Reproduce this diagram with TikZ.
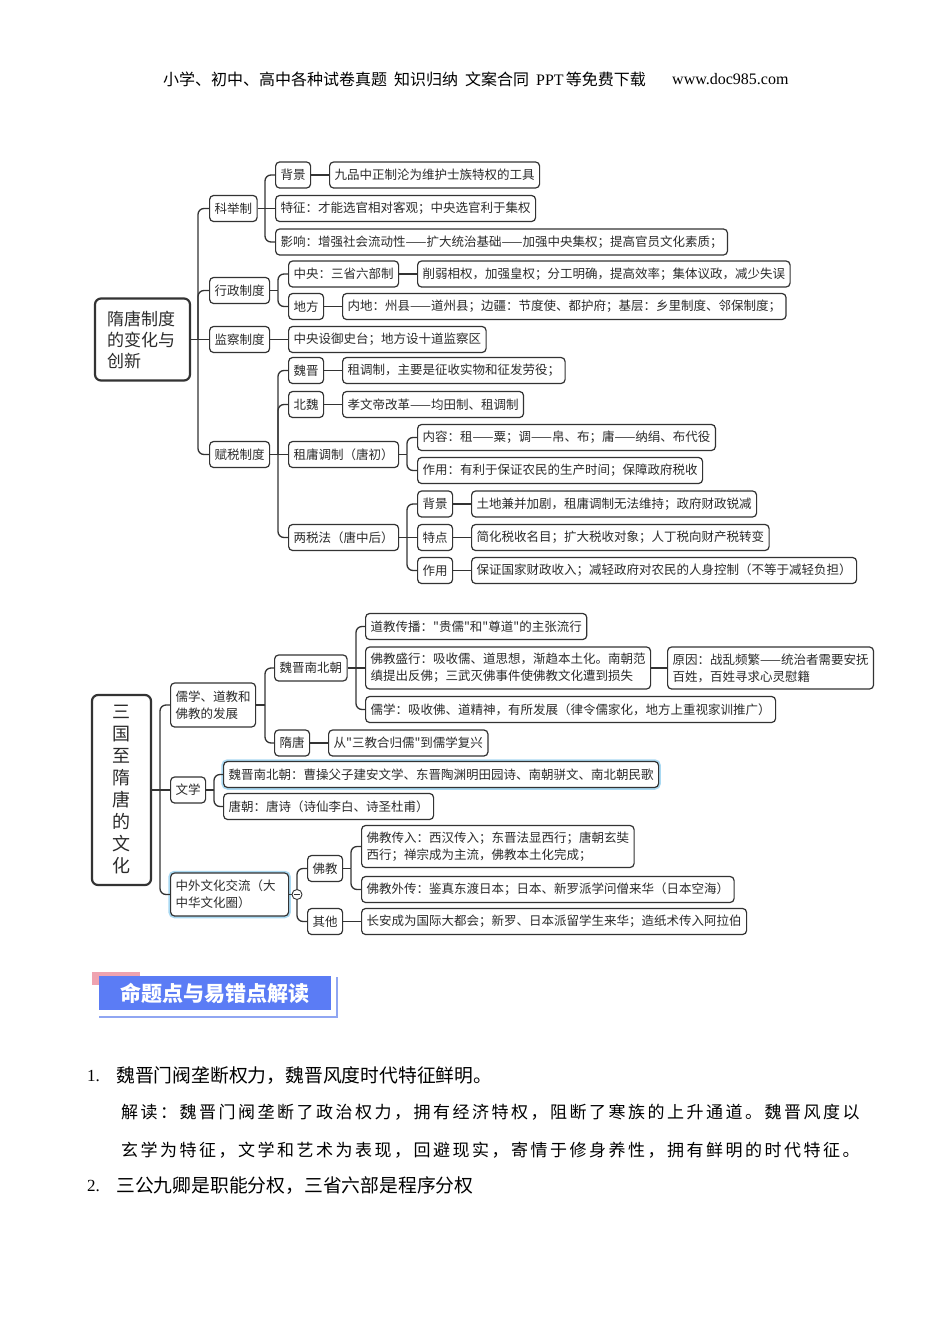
\documentclass[tikz,border=0pt]{standalone}
\usepackage{fontspec}
\newfontfamily\cjk{Noto Sans CJK SC}
\newfontfamily\lserif{Liberation Serif}
\definecolor{lc}{HTML}{333333}
\definecolor{tc}{HTML}{2B2B2B}
\definecolor{glowc}{HTML}{A9D9F2}
\definecolor{bannerblue}{HTML}{5B7CF5}
\definecolor{bannerpink}{HTML}{EFA3B0}
\definecolor{bannerline}{HTML}{90A6F2}
\newcommand\mmfont{\cjk\fontsize{12.5}{17}\selectfont}
\ExplSyntaxOn
\NewDocumentCommand\spaced{m m}{\tl_map_inline:nn {#2} {##1\hspace{#1}}}
\ExplSyntaxOff
\newcommand\stem[2]{\draw[link] (#1.east) -- (#2 |- #1.east);}
\newcommand\branch[3]{\draw[link, rounded corners=6pt] (#2 |- #1.east) -- (#2 |- #3.west) -- (#3.west);}
\newcommand\direct[2]{\draw[link] (#1.east) -- (#2.west);}
\begin{document}
\begin{tikzpicture}[x=1pt,y=-1pt,
  box/.style={draw=lc, line width=1.2pt, rounded corners=4pt, fill=white, inner xsep=5pt, inner ysep=2pt, minimum height=26pt, anchor=west, text=tc, font=\mmfont},
  twoline/.style={box, align=left, minimum height=42pt},
  glow/.style={preaction={draw=glowc, line width=4.5pt}},
  link/.style={draw=lc, line width=1.3pt},
  rootbox/.style={draw=lc, line width=2.2pt, rounded corners=6pt, fill=white, text=tc}]
\useasboundingbox (0,0) rectangle (950,1344);

% header
\node[anchor=west, inner sep=0, font=\cjk\fontsize{16}{18}\selectfont] (hdr) at (163,79) {小学、初中、高中各种试卷真题\hspace{7pt}知识归纳\hspace{7pt}文案合同\hspace{7pt}{\lserif PPT}\hspace{2pt}等免费下载};
\node[anchor=west, inner sep=0, font=\lserif\fontsize{16}{18}\selectfont] (url) at (672,79) {www.doc985.com};

% ---------- map 1 ----------
\coordinate (bR1) at (198,0);
\coordinate (bK1) at (265,0);
\coordinate (bK2) at (278,0);
\coordinate (bK4) at (278,0);
\coordinate (bD3) at (407,0);
\coordinate (bD4) at (407,0);

\node[rootbox, minimum width=95pt, minimum height=82pt, inner xsep=12pt, text width=71pt, align=left, font=\cjk\fontsize{17}{21}\selectfont] (r1) at (142.5,339.5) {隋唐制度\\的变化与\\创新};

\node[box] (k1) at (209,208.5) {科举制};
\node[box] (k2) at (209,290.5) {行政制度};
\node[box] (k3) at (209,339.5) {监察制度};
\node[box] (k4) at (209,454.5) {赋税制度};

\node[box] (a1) at (275,175) {背景};
\node[box] (a1t) at (329,175) {九品中正制沦为维护士族特权的工具};
\node[box] (a2) at (275,208.5) {特征：才能选官相对客观；中央选官利于集权};
\node[box] (a3) at (275,242) {影响：增强社会流动性——扩大统治基础——加强中央集权；提高官员文化素质；};

\node[box] (b1) at (288,274) {中央：三省六部制};
\node[box] (b1t) at (417,274) {削弱相权，加强皇权；分工明确，提高效率；集体议政，减少失误};
\node[box] (b2) at (288,306.5) {地方};
\node[box] (b2t) at (342,306.5) {内地：州县——道州县；边疆：节度使、都护府；基层：乡里制度、邻保制度；};

\node[box] (c1) at (288,339.5) {中央设御史台；地方设十道监察区};

\node[box] (d1) at (288,370.5) {魏晋};
\node[box] (d1t) at (342,370.5) {租调制，主要是征收实物和征发劳役；};
\node[box] (d2) at (288,404.5) {北魏};
\node[box] (d2t) at (342,404.5) {孝文帝改革——均田制、租调制};
\node[box] (d3) at (288,454.5) {租庸调制（唐初）};
\node[box] (d31) at (417,437.5) {内容：租——粟；调——帛、布；庸——纳绢、布代役};
\node[box] (d32) at (417,470.5) {作用：有利于保证农民的生产时间；保障政府税收};
\node[box] (d4) at (288,537.5) {两税法（唐中后）};
\node[box] (d41) at (417,504) {背景};
\node[box] (d41t) at (471,504) {土地兼并加剧，租庸调制无法维持；政府财政锐减};
\node[box] (d42) at (417,537.5) {特点};
\node[box] (d42t) at (471,537.5) {简化税收名目；扩大税收对象；人丁税向财产税转变};
\node[box] (d43) at (417,570.5) {作用};
\node[box] (d43t) at (471,570.5) {保证国家财政收入；减轻政府对农民的人身控制（不等于减轻负担）};

\stem{r1}{bR1}
\branch{r1}{bR1}{k1}
\branch{r1}{bR1}{k2}
\draw[link] (bR1 |- r1.east) -- (k3.west);
\branch{r1}{bR1}{k4}

\stem{k1}{bK1}
\branch{k1}{bK1}{a1}
\draw[link] (bK1 |- k1.east) -- (a2.west);
\branch{k1}{bK1}{a3}
\direct{a1}{a1t}

\stem{k2}{bK2}
\branch{k2}{bK2}{b1}
\branch{k2}{bK2}{b2}
\direct{b1}{b1t}
\direct{b2}{b2t}

\direct{k3}{c1}

\stem{k4}{bK4}
\branch{k4}{bK4}{d1}
\branch{k4}{bK4}{d2}
\draw[link] (bK4 |- k4.east) -- (d3.west);
\branch{k4}{bK4}{d4}
\direct{d1}{d1t}
\direct{d2}{d2t}

\stem{d3}{bD3}
\branch{d3}{bD3}{d31}
\branch{d3}{bD3}{d32}

\stem{d4}{bD4}
\branch{d4}{bD4}{d41}
\draw[link] (bD4 |- d4.east) -- (d42.west);
\branch{d4}{bD4}{d43}
\direct{d41}{d41t}
\direct{d42}{d42t}
\direct{d43}{d43t}

% ---------- map 2 ----------
\coordinate (bR2) at (160,0);
\coordinate (bE1) at (265,0);
\coordinate (bF1) at (356,0);
\coordinate (bE2) at (214,0);
\coordinate (bH1) at (351,0);

\node[rootbox, minimum width=59pt, minimum height=190pt, align=center, font=\cjk\fontsize{18}{22}\selectfont] (r2) at (121.5,790) {三\\国\\至\\隋\\唐\\的\\文\\化};

\node[twoline, minimum height=44pt] (e1) at (170,705) {儒学、道教和\\佛教的发展};
\node[box] (e2) at (170,790) {文学};
\node[twoline, glow, minimum height=43pt, text width=108pt] (e3) at (170,894.5) {中外文化交流（大\\中华文化圈）};

\node[box] (f1) at (274,668) {魏晋南北朝};
\node[box] (f11) at (365,626.5) {道教传播："贵儒"和"尊道"的主张流行};
\node[twoline] (f12) at (365,668) {佛教盛行：吸收儒、道思想，渐趋本土化。南朝范\\缜提出反佛；三武灭佛事件使佛教文化遭到损失};
\node[twoline] (f12t) at (667,668) {原因：战乱频繁——统治者需要安抚\\百姓，百姓寻求心灵慰籍};
\node[box] (f13) at (365,709.5) {儒学：吸收佛、道精神，有所发展（律令儒家化，地方上重视家训推广）};
\node[box] (f2) at (274,743) {隋唐};
\node[box] (f2t) at (328,743) {从"三教合归儒"到儒学复兴};

\node[box, glow] (g1) at (223,774.5) {魏晋南北朝：曹操父子建安文学、东晋陶渊明田园诗、南朝骈文、南北朝民歌};
\node[box] (g2) at (223,806.5) {唐朝：唐诗（诗仙李白、诗圣杜甫）};

\node[circle, draw=lc, line width=0.9pt, fill=white, minimum size=10pt, inner sep=0pt] (col) at (297,894.5) {};
\node[box] (h1) at (307,868.5) {佛教};
\node[twoline] (h11) at (361,846.5) {佛教传入：西汉传入；东晋法显西行；唐朝玄奘\\西行；禅宗成为主流，佛教本土化完成；};
\node[box] (h12) at (361,889.5) {佛教外传：鉴真东渡日本；日本、新罗派学问僧来华（日本空海）};
\node[box] (h2) at (307,921.5) {其他};
\node[box] (h2t) at (361,921.5) {长安成为国际大都会；新罗、日本派留学生来华；造纸术传入阿拉伯};

\stem{r2}{bR2}
\branch{r2}{bR2}{e1}
\draw[link] (bR2 |- r2.east) -- (e2.west);
\branch{r2}{bR2}{e3}

\stem{e1}{bE1}
\branch{e1}{bE1}{f1}
\branch{e1}{bE1}{f2}
\direct{f2}{f2t}

\stem{f1}{bF1}
\branch{f1}{bF1}{f11}
\draw[link] (bF1 |- f1.east) -- (f12.west);
\branch{f1}{bF1}{f13}
\direct{f12}{f12t}

\stem{e2}{bE2}
\branch{e2}{bE2}{g1}
\branch{e2}{bE2}{g2}

\draw[link, line width=0.9pt] (e3.east) -- (col.west);
\draw[link, rounded corners=6pt] (col.north) -- (col.north |- h1.west) -- (h1.west);
\draw[link, rounded corners=6pt] (col.south) -- (col.south |- h2.west) -- (h2.west);
\draw[lc, line width=0.9pt] ([xshift=-3pt]col.center) -- ([xshift=3pt]col.center);

\stem{h1}{bH1}
\branch{h1}{bH1}{h11}
\branch{h1}{bH1}{h12}
\direct{h2}{h2t}

% ---------- banner ----------
\fill[bannerpink] (92,972) rectangle (140,985);
\draw[bannerline, line width=1.2pt] (337,977) -- (337,1017) -- (99,1017);
\fill[bannerblue] (99,976) rectangle (331,1010);
\node[font=\cjk\bfseries\fontsize{21}{24}\selectfont, text=white] (ban) at (215,993) {命题点与易错点解读};

% ---------- text ----------
\node[anchor=west, inner sep=0, font=\lserif\fontsize{17}{20}\selectfont] (n1) at (87,1076) {1.};
\node[anchor=west, inner sep=0, font=\cjk\fontsize{18.8}{20}\selectfont] (p1) at (116,1076) {魏晋门阀垄断权力，魏晋风度时代特征鲜明。};
\node[anchor=west, inner sep=0, font=\cjk\fontsize{17}{20}\selectfont] (p2) at (121,1112) {\spaced{2.5pt}{解读：魏晋门阀垄断了政治权力，拥有经济特权，阻断了寒族的上升通道。魏晋风度以}};
\node[anchor=west, inner sep=0, font=\cjk\fontsize{17}{20}\selectfont] (p3) at (121,1150) {\spaced{2.5pt}{玄学为特征，文学和艺术为表现，回避现实，寄情于修身养性，拥有鲜明的时代特征。}};
\node[anchor=west, inner sep=0, font=\lserif\fontsize{17}{20}\selectfont] (n2) at (87,1186) {2.};
\node[anchor=west, inner sep=0, font=\cjk\fontsize{18.8}{20}\selectfont] (p4) at (116,1186) {三公九卿是职能分权，三省六部是程序分权};
\end{tikzpicture}
\end{document}
